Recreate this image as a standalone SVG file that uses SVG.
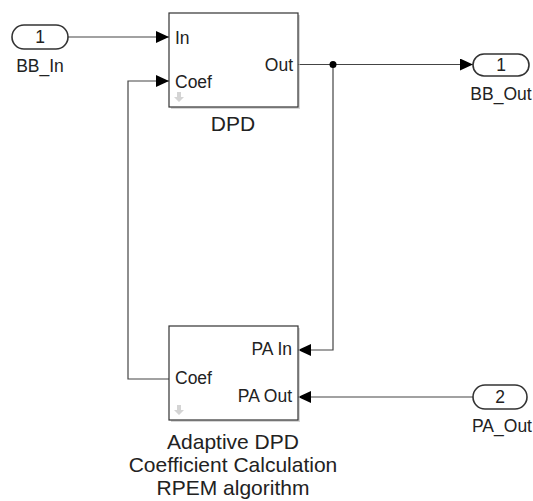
<svg xmlns="http://www.w3.org/2000/svg" width="533" height="501" viewBox="0 0 533 501">
<style>
text{font-family:"Liberation Sans",Arial,sans-serif;fill:#222}
.pl{font-size:17.5px}
.bl{font-size:21px;text-anchor:middle}
.blk{fill:#fff;stroke:#333;stroke-width:1.2}
.sh{fill:#bbb;opacity:0.6}
.port{fill:#fff;stroke:#333;stroke-width:1.6}
.ln{fill:none;stroke:#444;stroke-width:1.2}
.ico{fill:#d4d4d4}
</style>
<defs>
<marker id="ah" markerUnits="userSpaceOnUse" markerWidth="14" markerHeight="12" refX="13" refY="6" orient="auto">
<path d="M0,0 L13,6 L0,12 z" fill="#000"/>
</marker>
</defs>
<g id="connectors">
<path class="ln" d="M68,37 H169" marker-end="url(#ah)"/>
<path class="ln" d="M298,64.5 H473" marker-end="url(#ah)"/>
<path class="ln" d="M333,64.5 V350 H298" marker-end="url(#ah)"/>
<path class="ln" d="M169,379 H128 V81 H169" marker-end="url(#ah)"/>
<path class="ln" d="M473,397 H298" marker-end="url(#ah)"/>
<circle cx="333" cy="64.5" r="3.5" fill="#000"/>
</g>
<g id="BB_In">
<rect class="port" x="12" y="25" width="56" height="24" rx="12"/>
<text class="pl" x="40" y="43" text-anchor="middle">1</text>
<text class="pl" x="40" y="72" text-anchor="middle">BB_In</text>
</g>
<g id="DPD">
<rect class="sh" x="171" y="15" width="129" height="94"/>
<rect class="blk" x="169" y="13" width="129" height="94"/>
<path class="ico" d="M177,92 h4 v5 h3 l-5,5 l-5,-5 h3 z"/>
<text class="pl" x="175" y="44">In</text>
<text class="pl" x="175" y="88">Coef</text>
<text class="pl" x="293" y="71" text-anchor="end">Out</text>
<text class="bl" x="233" y="131">DPD</text>
</g>
<g id="BB_Out">
<rect class="port" x="473" y="54" width="56" height="22" rx="11"/>
<text class="pl" x="501" y="71" text-anchor="middle">1</text>
<text class="pl" x="501" y="100" text-anchor="middle">BB_Out</text>
</g>
<g id="Adaptive">
<rect class="sh" x="171" y="328" width="129" height="94"/>
<rect class="blk" x="169" y="326" width="129" height="94"/>
<path class="ico" d="M177,405 h4 v5 h3 l-5,5 l-5,-5 h3 z"/>
<text class="pl" x="292" y="355" text-anchor="end">PA In</text>
<text class="pl" x="175" y="384">Coef</text>
<text class="pl" x="292" y="402" text-anchor="end">PA Out</text>
<text class="bl" x="233" y="449">Adaptive DPD</text>
<text class="bl" x="233" y="472">Coefficient Calculation</text>
<text class="bl" x="233" y="495">RPEM algorithm</text>
</g>
<g id="PA_Out">
<rect class="port" x="473" y="385" width="54" height="24" rx="12"/>
<text class="pl" x="500" y="403" text-anchor="middle">2</text>
<text class="pl" x="502" y="432" text-anchor="middle">PA_Out</text>
</g>
</svg>
